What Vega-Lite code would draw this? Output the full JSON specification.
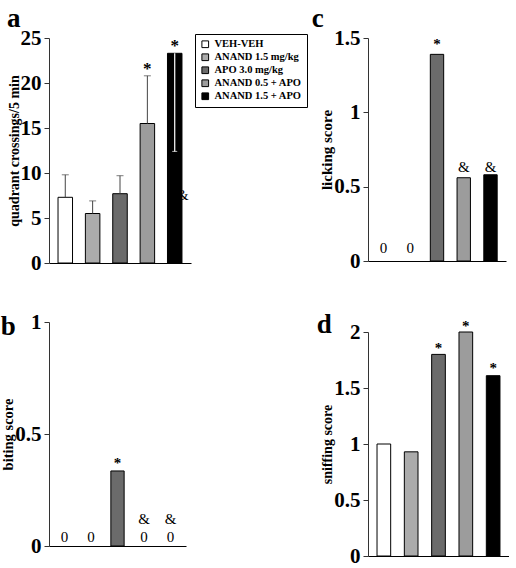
{
  "$schema": "https://vega.github.io/schema/vega-lite/v6.json",
  "background": "white",
  "padding": {"left": 0, "top": 5, "right": 0, "bottom": 0},
  "datasets": {
    "locomotion": [
      {"group": "VEH-VEH", "mean": 7.3, "upper": 9.8, "lower": null},
      {"group": "ANAND 1.5 mg/kg", "mean": 5.5, "upper": 6.9, "lower": null},
      {"group": "APO 3.0 mg/kg", "mean": 7.7, "upper": 9.7, "lower": null},
      {"group": "ANAND 0.5 + APO", "mean": 15.5, "upper": 20.8, "lower": null},
      {"group": "ANAND 1.5 + APO", "mean": 23.3, "upper": null, "lower": 12.4}
    ],
    "locomotion_marks": [
      {"group": "ANAND 0.5 + APO", "mark": "*", "at": 21.6},
      {"group": "ANAND 1.5 + APO", "mark": "*", "at": 24.1},
      {"group": "ANAND 1.5 + APO", "mark": "&", "at": 7.6}
    ],
    "biting": [
      {"group": "VEH-VEH", "score": 0},
      {"group": "ANAND 1.5 mg/kg", "score": 0},
      {"group": "APO 3.0 mg/kg", "score": 0.335},
      {"group": "ANAND 0.5 + APO", "score": 0},
      {"group": "ANAND 1.5 + APO", "score": 0}
    ],
    "biting_marks": [
      {"group": "VEH-VEH", "mark": "0", "at": 0.04},
      {"group": "ANAND 1.5 mg/kg", "mark": "0", "at": 0.04},
      {"group": "APO 3.0 mg/kg", "mark": "*", "at": 0.37},
      {"group": "ANAND 0.5 + APO", "mark": "&", "at": 0.12},
      {"group": "ANAND 1.5 + APO", "mark": "&", "at": 0.12},
      {"group": "ANAND 0.5 + APO", "mark": "0", "at": 0.04},
      {"group": "ANAND 1.5 + APO", "mark": "0", "at": 0.04}
    ],
    "licking": [
      {"group": "VEH-VEH", "score": 0},
      {"group": "ANAND 1.5 mg/kg", "score": 0},
      {"group": "APO 3.0 mg/kg", "score": 1.39},
      {"group": "ANAND 0.5 + APO", "score": 0.56},
      {"group": "ANAND 1.5 + APO", "score": 0.58}
    ],
    "licking_marks": [
      {"group": "VEH-VEH", "mark": "0", "at": 0.09},
      {"group": "ANAND 1.5 mg/kg", "mark": "0", "at": 0.09},
      {"group": "APO 3.0 mg/kg", "mark": "*", "at": 1.46},
      {"group": "ANAND 0.5 + APO", "mark": "&", "at": 0.63},
      {"group": "ANAND 1.5 + APO", "mark": "&", "at": 0.63}
    ],
    "sniffing": [
      {"group": "VEH-VEH", "score": 1.0},
      {"group": "ANAND 1.5 mg/kg", "score": 0.93},
      {"group": "APO 3.0 mg/kg", "score": 1.8},
      {"group": "ANAND 0.5 + APO", "score": 2.0},
      {"group": "ANAND 1.5 + APO", "score": 1.61}
    ],
    "sniffing_marks": [
      {"group": "APO 3.0 mg/kg", "mark": "*", "at": 1.86},
      {"group": "ANAND 0.5 + APO", "mark": "*", "at": 2.05},
      {"group": "ANAND 1.5 + APO", "mark": "*", "at": 1.68}
    ]
  },
  "hconcat": [
    {
      "vconcat": [
        {
          "width": 142,
          "height": 225,
          "title": {"text": "a", "fontSize": 27, "offset": -6},
          "data": {"name": "locomotion"},
          "encoding": {
            "x": {"field": "group", "type": "nominal", "sort": null,
              "scale": {"domain": ["VEH-VEH", "ANAND 1.5 mg/kg", "APO 3.0 mg/kg", "ANAND 0.5 + APO", "ANAND 1.5 + APO"], "paddingInner": 0.47, "paddingOuter": 0.33},
              "axis": {"labels": false, "ticks": false, "title": null}}
          },
          "layer": [
            {
              "mark": {"type": "bar", "stroke": "black", "strokeWidth": 1},
              "encoding": {
                "y": {"field": "mean", "type": "quantitative", "title": "quadrant crossings/5 min",
                  "scale": {"domain": [0, 25], "nice": false},
                  "axis": {"values": [0, 5, 10, 15, 20, 25], "titleFontSize": 14}},
                "fill": {"field": "group", "type": "nominal",
                  "scale": {"domain": ["VEH-VEH", "ANAND 1.5 mg/kg", "APO 3.0 mg/kg", "ANAND 0.5 + APO", "ANAND 1.5 + APO"], "range": ["#ffffff", "#ababab", "#6b6b6b", "#9c9c9c", "#000000"]},
                  "legend": {"orient": "none", "legendX": 146, "legendY": -4, "title": null, "symbolType": "square", "symbolSize": 45, "symbolStrokeColor": "black", "symbolStrokeWidth": 1, "strokeColor": "black", "padding": 5, "rowPadding": 1, "labelFont": "Liberation Serif", "labelFontWeight": "bold", "labelFontSize": 10.5, "labelColor": "black", "fillColor": "white"}}
              }
            },
            {
              "transform": [{"filter": "isValid(datum.upper)"}],
              "mark": {"type": "rule", "color": "#444", "strokeWidth": 1},
              "encoding": {"y": {"field": "mean", "type": "quantitative", "title": "quadrant crossings/5 min"}, "y2": {"field": "upper"}}
            },
            {
              "transform": [{"filter": "isValid(datum.upper)"}],
              "mark": {"type": "tick", "color": "#444", "thickness": 1, "size": 7},
              "encoding": {"y": {"field": "upper", "type": "quantitative", "title": "quadrant crossings/5 min"}}
            },
            {
              "transform": [{"filter": "isValid(datum.lower)"}],
              "mark": {"type": "rule", "color": "white", "strokeWidth": 1.2},
              "encoding": {"y": {"field": "lower", "type": "quantitative", "title": "quadrant crossings/5 min"}, "y2": {"field": "mean"}}
            },
            {
              "transform": [{"filter": "isValid(datum.lower)"}],
              "mark": {"type": "tick", "color": "white", "thickness": 1, "size": 5},
              "encoding": {"y": {"field": "lower", "type": "quantitative", "title": "quadrant crossings/5 min"}}
            },
            {
              "data": {"name": "locomotion_marks"},
              "transform": [{"filter": "datum.mark == '*'"}],
              "mark": {"type": "text", "fontSize": 17, "fontWeight": "bold", "font": "Liberation Serif", "baseline": "middle", "color": "black"},
              "encoding": {"y": {"field": "at", "type": "quantitative", "title": "quadrant crossings/5 min"}, "text": {"field": "mark"}}
            },
            {
              "data": {"name": "locomotion_marks"},
              "transform": [{"filter": "datum.mark == '&'"}],
              "mark": {"type": "text", "fontSize": 15, "font": "Liberation Serif", "baseline": "middle", "dx": 8, "color": "black"},
              "encoding": {"y": {"field": "at", "type": "quantitative", "title": "quadrant crossings/5 min"}, "text": {"field": "mark"}}
            }
          ]
        },
        {
          "width": 137,
          "height": 224,
          "title": {"text": "b", "fontSize": 27, "offset": -30},
          "data": {"name": "biting"},
          "encoding": {
            "x": {"field": "group", "type": "nominal", "sort": null,
              "scale": {"domain": ["VEH-VEH", "ANAND 1.5 mg/kg", "APO 3.0 mg/kg", "ANAND 0.5 + APO", "ANAND 1.5 + APO"], "paddingInner": 0.5, "paddingOuter": 0.33},
              "axis": {"labels": false, "ticks": false, "title": null}}
          },
          "layer": [
            {
              "transform": [{"filter": "datum.score > 0"}],
              "mark": {"type": "bar", "stroke": "black", "strokeWidth": 1},
              "encoding": {
                "y": {"field": "score", "type": "quantitative", "title": "biting score",
                  "scale": {"domain": [0, 1], "nice": false},
                  "axis": {"values": [0, 0.5, 1], "labelExpr": "datum.value + ''", "titleFontSize": 14.5}},
                "fill": {"field": "group", "type": "nominal",
                  "scale": {"domain": ["VEH-VEH", "ANAND 1.5 mg/kg", "APO 3.0 mg/kg", "ANAND 0.5 + APO", "ANAND 1.5 + APO"], "range": ["#ffffff", "#ababab", "#6b6b6b", "#9c9c9c", "#000000"]},
                  "legend": null}
              }
            },
            {
              "data": {"name": "biting_marks"},
              "transform": [{"filter": "datum.mark == '*'"}],
              "mark": {"type": "text", "fontSize": 15, "fontWeight": "bold", "font": "Liberation Serif", "baseline": "middle", "color": "black"},
              "encoding": {"y": {"field": "at", "type": "quantitative", "title": "biting score"}, "text": {"field": "mark"}}
            },
            {
              "data": {"name": "biting_marks"},
              "transform": [{"filter": "datum.mark != '*'"}],
              "mark": {"type": "text", "fontSize": 15, "font": "Liberation Serif", "baseline": "middle", "color": "black"},
              "encoding": {"y": {"field": "at", "type": "quantitative", "title": "biting score"}, "text": {"field": "mark"}}
            }
          ]
        }
      ],
      "spacing": 38,
      "resolve": {"scale": {"fill": "independent"}, "legend": {"fill": "independent"}}
    },
    {
      "vconcat": [
        {
          "width": 138,
          "height": 223,
          "title": {"text": "c", "fontSize": 27, "offset": -6, "dx": -8},
          "data": {"name": "licking"},
          "encoding": {
            "x": {"field": "group", "type": "nominal", "sort": null,
              "scale": {"domain": ["VEH-VEH", "ANAND 1.5 mg/kg", "APO 3.0 mg/kg", "ANAND 0.5 + APO", "ANAND 1.5 + APO"], "paddingInner": 0.5, "paddingOuter": 0.33},
              "axis": {"labels": false, "ticks": false, "title": null}}
          },
          "layer": [
            {
              "transform": [{"filter": "datum.score > 0"}],
              "mark": {"type": "bar", "stroke": "black", "strokeWidth": 1},
              "encoding": {
                "y": {"field": "score", "type": "quantitative", "title": "licking score",
                  "scale": {"domain": [0, 1.5], "nice": false},
                  "axis": {"values": [0, 0.5, 1, 1.5], "labelExpr": "datum.value + ''", "titleFontSize": 15}},
                "fill": {"field": "group", "type": "nominal",
                  "scale": {"domain": ["VEH-VEH", "ANAND 1.5 mg/kg", "APO 3.0 mg/kg", "ANAND 0.5 + APO", "ANAND 1.5 + APO"], "range": ["#ffffff", "#ababab", "#6b6b6b", "#9c9c9c", "#000000"]},
                  "legend": null}
              }
            },
            {
              "data": {"name": "licking_marks"},
              "transform": [{"filter": "datum.mark == '*'"}],
              "mark": {"type": "text", "fontSize": 15, "fontWeight": "bold", "font": "Liberation Serif", "baseline": "middle", "color": "black"},
              "encoding": {"y": {"field": "at", "type": "quantitative", "title": "licking score"}, "text": {"field": "mark"}}
            },
            {
              "data": {"name": "licking_marks"},
              "transform": [{"filter": "datum.mark != '*'"}],
              "mark": {"type": "text", "fontSize": 15, "font": "Liberation Serif", "baseline": "middle", "color": "black"},
              "encoding": {"y": {"field": "at", "type": "quantitative", "title": "licking score"}, "text": {"field": "mark"}}
            }
          ]
        },
        {
          "width": 141,
          "height": 224,
          "title": {"text": "d", "fontSize": 27, "offset": -20, "dx": -4},
          "data": {"name": "sniffing"},
          "encoding": {
            "x": {"field": "group", "type": "nominal", "sort": null,
              "scale": {"domain": ["VEH-VEH", "ANAND 1.5 mg/kg", "APO 3.0 mg/kg", "ANAND 0.5 + APO", "ANAND 1.5 + APO"], "paddingInner": 0.5, "paddingOuter": 0.33},
              "axis": {"labels": false, "ticks": false, "title": null}}
          },
          "layer": [
            {
              "mark": {"type": "bar", "stroke": "black", "strokeWidth": 1},
              "encoding": {
                "y": {"field": "score", "type": "quantitative", "title": "sniffing score",
                  "scale": {"domain": [0, 2], "nice": false},
                  "axis": {"values": [0, 0.5, 1, 1.5, 2], "labelExpr": "datum.value + ''", "titleFontSize": 14}},
                "fill": {"field": "group", "type": "nominal",
                  "scale": {"domain": ["VEH-VEH", "ANAND 1.5 mg/kg", "APO 3.0 mg/kg", "ANAND 0.5 + APO", "ANAND 1.5 + APO"], "range": ["#ffffff", "#ababab", "#6b6b6b", "#9c9c9c", "#000000"]},
                  "legend": null}
              }
            },
            {
              "data": {"name": "sniffing_marks"},
              "mark": {"type": "text", "fontSize": 15, "fontWeight": "bold", "font": "Liberation Serif", "baseline": "middle", "color": "black"},
              "encoding": {"y": {"field": "at", "type": "quantitative", "title": "sniffing score"}, "text": {"field": "mark"}}
            }
          ]
        }
      ],
      "spacing": 40,
      "resolve": {"scale": {"fill": "independent"}, "legend": {"fill": "independent"}}
    }
  ],
  "spacing": 3,
  "resolve": {"scale": {"fill": "independent"}, "legend": {"fill": "independent"}},
  "config": {
    "font": "Liberation Serif",
    "view": {"stroke": null},
    "axis": {"grid": false, "labelFont": "Liberation Serif", "labelFontWeight": "bold", "labelColor": "black", "titleFont": "Liberation Serif", "titleFontWeight": "bold", "titleColor": "black", "domainColor": "#333", "tickColor": "#333"},
    "axisY": {"labelFontSize": 21, "tickSize": 5, "labelPadding": 3, "titlePadding": -1},
    "axisX": {"domainColor": "black"},
    "title": {"font": "Liberation Serif", "fontWeight": "bold", "color": "black", "anchor": "start", "frame": "bounds"},
    "text": {"font": "Liberation Serif"}
  }
}
